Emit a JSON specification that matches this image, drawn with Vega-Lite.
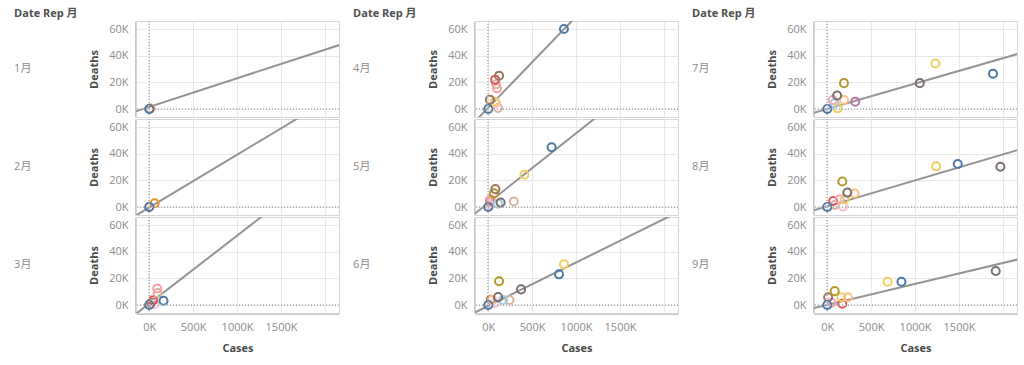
{
  "$schema": "https://vega.github.io/schema/vega-lite/v6.json",
  "padding": {"left": 14, "top": 8, "right": 0, "bottom": 0},
  "background": "white",
  "config": {
    "font": "Open Sans, Noto Sans CJK JP, sans-serif",
    "view": {"stroke": "#d6d6d6", "strokeWidth": 1},
    "axis": {
      "labelColor": "#8c8c8c",
      "labelFontSize": 11,
      "labelFont": "Open Sans, Noto Sans CJK JP, sans-serif",
      "titleColor": "#4a4a4a",
      "titleFontSize": 11,
      "titleFontWeight": "bold",
      "titleFont": "Open Sans, Noto Sans CJK JP, sans-serif",
      "ticks": false,
      "domainColor": "#c8c8c8",
      "grid": true,
      "gridColor": "#e8e8e8",
      "labelFlush": false,
      "labelOverlap": false
    },
    "title": {"font": "Open Sans, Noto Sans CJK JP, sans-serif"}
  },
  "datasets": {
    "d": [
      {"m": "1月", "col": 1, "k": "t", "c": "T", "x": -300000, "y": -4950},
      {"m": "1月", "col": 1, "k": "t", "c": "T", "x": 2400000, "y": 53100},
      {"m": "1月", "col": 1, "k": "p", "c": "China", "x": 11000, "y": 260},
      {"m": "1月", "col": 1, "k": "p", "c": "Others", "x": 500, "y": 0},

      {"m": "2月", "col": 1, "k": "t", "c": "T", "x": -300000, "y": -12300},
      {"m": "2月", "col": 1, "k": "t", "c": "T", "x": 2400000, "y": 94600},
      {"m": "2月", "col": 1, "k": "p", "c": "China", "x": 62000, "y": 2800},
      {"m": "2月", "col": 1, "k": "p", "c": "Italy", "x": 1100, "y": 30},
      {"m": "2月", "col": 1, "k": "p", "c": "Others", "x": 300, "y": 0},

      {"m": "3月", "col": 1, "k": "t", "c": "T", "x": -300000, "y": -14300},
      {"m": "3月", "col": 1, "k": "t", "c": "T", "x": 2400000, "y": 123400},
      {"m": "3月", "col": 1, "k": "p", "c": "China", "x": 3300, "y": 300},
      {"m": "3月", "col": 1, "k": "p", "c": "United_Kingdom", "x": 25000, "y": 1800},
      {"m": "3月", "col": 1, "k": "p", "c": "Germany", "x": 62000, "y": 600},
      {"m": "3月", "col": 1, "k": "p", "c": "France", "x": 44000, "y": 3500},
      {"m": "3月", "col": 1, "k": "p", "c": "Spain", "x": 96000, "y": 9000},
      {"m": "3月", "col": 1, "k": "p", "c": "Italy", "x": 91000, "y": 12400},
      {"m": "3月", "col": 1, "k": "p", "c": "United_States_of_America", "x": 163000, "y": 3200},
      {"m": "3月", "col": 1, "k": "p", "c": "Others", "x": 500, "y": 10},

      {"m": "4月", "col": 2, "k": "t", "c": "T", "x": -300000, "y": -19600},
      {"m": "4月", "col": 2, "k": "t", "c": "T", "x": 2400000, "y": 165000},
      {"m": "4月", "col": 2, "k": "p", "c": "Russia", "x": 112000, "y": 800},
      {"m": "4月", "col": 2, "k": "p", "c": "Germany", "x": 90000, "y": 4500},
      {"m": "4月", "col": 2, "k": "p", "c": "Brazil", "x": 75000, "y": 5500},
      {"m": "4月", "col": 2, "k": "p", "c": "Belgium", "x": 19000, "y": 7000},
      {"m": "4月", "col": 2, "k": "p", "c": "Italy", "x": 100000, "y": 15500},
      {"m": "4月", "col": 2, "k": "p", "c": "Spain", "x": 90000, "y": 18500},
      {"m": "4月", "col": 2, "k": "p", "c": "France", "x": 79000, "y": 22000},
      {"m": "4月", "col": 2, "k": "p", "c": "United_Kingdom", "x": 124000, "y": 25000},
      {"m": "4月", "col": 2, "k": "p", "c": "United_States_of_America", "x": 862000, "y": 60000},
      {"m": "4月", "col": 2, "k": "p", "c": "Others", "x": 500, "y": 10},

      {"m": "5月", "col": 2, "k": "t", "c": "T", "x": -300000, "y": -12700},
      {"m": "5月", "col": 2, "k": "t", "c": "T", "x": 2400000, "y": 128500},
      {"m": "5月", "col": 2, "k": "p", "c": "Germany", "x": 20000, "y": 1500},
      {"m": "5月", "col": 2, "k": "p", "c": "Spain", "x": 25000, "y": 3500},
      {"m": "5月", "col": 2, "k": "p", "c": "France", "x": 22000, "y": 5000},
      {"m": "5月", "col": 2, "k": "p", "c": "Italy", "x": 30000, "y": 5600},
      {"m": "5月", "col": 2, "k": "p", "c": "Peru", "x": 112000, "y": 2500},
      {"m": "5月", "col": 2, "k": "p", "c": "India", "x": 142000, "y": 3300},
      {"m": "5月", "col": 2, "k": "p", "c": "Mexico", "x": 67000, "y": 10300},
      {"m": "5月", "col": 2, "k": "p", "c": "United_Kingdom", "x": 82000, "y": 13400},
      {"m": "5月", "col": 2, "k": "p", "c": "Russia", "x": 292000, "y": 4100},
      {"m": "5月", "col": 2, "k": "p", "c": "Brazil", "x": 412000, "y": 24200},
      {"m": "5月", "col": 2, "k": "p", "c": "United_States_of_America", "x": 722000, "y": 44800},
      {"m": "5月", "col": 2, "k": "p", "c": "Others", "x": 500, "y": 10},

      {"m": "6月", "col": 2, "k": "t", "c": "T", "x": -300000, "y": -10500},
      {"m": "6月", "col": 2, "k": "t", "c": "T", "x": 2400000, "y": 77500},
      {"m": "6月", "col": 2, "k": "p", "c": "United_Kingdom", "x": 30000, "y": 4000},
      {"m": "6月", "col": 2, "k": "p", "c": "Colombia", "x": 45000, "y": 3800},
      {"m": "6月", "col": 2, "k": "p", "c": "Germany", "x": 75000, "y": 1300},
      {"m": "6月", "col": 2, "k": "p", "c": "Russia", "x": 243000, "y": 3800},
      {"m": "6月", "col": 2, "k": "p", "c": "Peru", "x": 169000, "y": 3800},
      {"m": "6月", "col": 2, "k": "p", "c": "Iran", "x": 112000, "y": 5900},
      {"m": "6月", "col": 2, "k": "p", "c": "Mexico", "x": 124000, "y": 17800},
      {"m": "6月", "col": 2, "k": "p", "c": "India", "x": 374000, "y": 11700},
      {"m": "6月", "col": 2, "k": "p", "c": "Brazil", "x": 862000, "y": 30500},
      {"m": "6月", "col": 2, "k": "p", "c": "United_States_of_America", "x": 806000, "y": 23000},
      {"m": "6月", "col": 2, "k": "p", "c": "Others", "x": 500, "y": 10},

      {"m": "7月", "col": 3, "k": "t", "c": "T", "x": -300000, "y": -5600},
      {"m": "7月", "col": 3, "k": "t", "c": "T", "x": 2400000, "y": 45700},
      {"m": "7月", "col": 3, "k": "p", "c": "Argentina", "x": 120000, "y": 500},
      {"m": "7月", "col": 3, "k": "p", "c": "Peru", "x": 83000, "y": 4300},
      {"m": "7月", "col": 3, "k": "p", "c": "Chile", "x": 63000, "y": 6800},
      {"m": "7月", "col": 3, "k": "p", "c": "Colombia", "x": 191000, "y": 6800},
      {"m": "7月", "col": 3, "k": "p", "c": "Iran", "x": 113000, "y": 10100},
      {"m": "7月", "col": 3, "k": "p", "c": "South_Africa", "x": 319000, "y": 5500},
      {"m": "7月", "col": 3, "k": "p", "c": "Mexico", "x": 191000, "y": 19400},
      {"m": "7月", "col": 3, "k": "p", "c": "India", "x": 1054000, "y": 19400},
      {"m": "7月", "col": 3, "k": "p", "c": "Brazil", "x": 1231000, "y": 34100},
      {"m": "7月", "col": 3, "k": "p", "c": "United_States_of_America", "x": 1887000, "y": 26500},
      {"m": "7月", "col": 3, "k": "p", "c": "Others", "x": 500, "y": 10},

      {"m": "8月", "col": 3, "k": "t", "c": "T", "x": -300000, "y": -5400},
      {"m": "8月", "col": 3, "k": "t", "c": "T", "x": 2400000, "y": 47200},
      {"m": "8月", "col": 3, "k": "p", "c": "Russia", "x": 86000, "y": 1500},
      {"m": "8月", "col": 3, "k": "p", "c": "Germany", "x": 180000, "y": 300},
      {"m": "8月", "col": 3, "k": "p", "c": "France", "x": 68000, "y": 4500},
      {"m": "8月", "col": 3, "k": "p", "c": "Chile", "x": 142000, "y": 5800},
      {"m": "8月", "col": 3, "k": "p", "c": "Argentina", "x": 198000, "y": 5800},
      {"m": "8月", "col": 3, "k": "p", "c": "Colombia", "x": 311000, "y": 10100},
      {"m": "8月", "col": 3, "k": "p", "c": "Iran", "x": 229000, "y": 10800},
      {"m": "8月", "col": 3, "k": "p", "c": "Mexico", "x": 172000, "y": 19100},
      {"m": "8月", "col": 3, "k": "p", "c": "India", "x": 1971000, "y": 30200},
      {"m": "8月", "col": 3, "k": "p", "c": "Brazil", "x": 1239000, "y": 30500},
      {"m": "8月", "col": 3, "k": "p", "c": "United_States_of_America", "x": 1486000, "y": 32300},
      {"m": "8月", "col": 3, "k": "p", "c": "Others", "x": 500, "y": 10},

      {"m": "9月", "col": 3, "k": "t", "c": "T", "x": -300000, "y": -4600},
      {"m": "9月", "col": 3, "k": "t", "c": "T", "x": 2400000, "y": 37800},
      {"m": "9月", "col": 3, "k": "p", "c": "Chile", "x": 48000, "y": 1800},
      {"m": "9月", "col": 3, "k": "p", "c": "Belgium", "x": 11000, "y": 5800},
      {"m": "9月", "col": 3, "k": "p", "c": "France", "x": 172000, "y": 1000},
      {"m": "9月", "col": 3, "k": "p", "c": "Argentina", "x": 161000, "y": 5800},
      {"m": "9月", "col": 3, "k": "p", "c": "Colombia", "x": 236000, "y": 5800},
      {"m": "9月", "col": 3, "k": "p", "c": "Mexico", "x": 86000, "y": 10400},
      {"m": "9月", "col": 3, "k": "p", "c": "Brazil", "x": 687000, "y": 17400},
      {"m": "9月", "col": 3, "k": "p", "c": "United_States_of_America", "x": 845000, "y": 17400},
      {"m": "9月", "col": 3, "k": "p", "c": "India", "x": 1918000, "y": 25500},
      {"m": "9月", "col": 3, "k": "p", "c": "Others", "x": 500, "y": 10}
    ]
  },
  "spacing": 13,
  "hconcat": [
    {
      "title": {"text": "Date Rep 月", "anchor": "start", "frame": "bounds", "fontSize": 11, "fontWeight": "bold", "color": "#505050", "offset": 1},
      "data": {"name": "d"},
      "transform": [{"filter": "datum.col == 1"}],
      "spacing": 0,
      "facet": {"row": {"field": "m", "type": "nominal", "sort": ["1月", "2月", "3月"], "header": {"title": null, "labelAngle": 0, "labelAlign": "right", "labelPadding": 40, "labelColor": "#8c8c8c", "labelFontSize": 11, "labelFont": "Open Sans, Noto Sans CJK JP, sans-serif"}}},
      "spec": {
        "width": 203, "height": 96,
        "encoding": {
          "x": {"field": "x", "type": "quantitative", "scale": {"domain": [-150000, 2160000], "nice": false, "zero": false}, "title": "Cases", "axis": {"values": [0, 500000, 1000000, 1500000, 2000000], "labelExpr": "datum.value >= 2000000 ? '' : format(datum.value/1000, 'd') + 'K'", "labelPadding": 7, "titlePadding": 10, "grid": true, "gridColor": "#e8e8e8", "labelOverlap": false}},
          "y": {"field": "y", "type": "quantitative", "scale": {"domain": [-6000, 66000], "nice": false, "zero": false}, "title": "Deaths", "axis": {"values": [0, 20000, 40000, 60000], "labelExpr": "format(datum.value/1000, 'd') + 'K'", "labelPadding": 7, "titlePadding": 9, "grid": true, "gridColor": "#e8e8e8", "labelOverlap": false}}
        },
        "layer": [
          {"transform": [{"filter": "datum.k == 't'"}], "mark": {"type": "line", "color": "#949494", "strokeWidth": 2, "clip": true}},
          {"transform": [{"filter": "datum.k == 'p'"}], "mark": {"type": "point", "filled": false, "strokeWidth": 2, "size": 65, "opacity": 1},
            "encoding": {
              "color": {"field": "c", "type": "nominal", "legend": null, "scale": {"domain": ["Others", "United_States_of_America", "China", "Italy", "Spain", "Russia", "France", "United_Kingdom", "Belgium", "Germany", "Brazil", "India", "Iran", "Mexico", "South_Africa", "Peru", "Colombia", "Argentina", "Chile"], "range": ["#4e79a7", "#4e79a7", "#f28e2b", "#ff9d9a", "#d7b5a6", "#d7b5a6", "#e15759", "#9d7660", "#9d7660", "#fabfd2", "#f1ce63", "#79706e", "#79706e", "#b6992d", "#b07aa1", "#a0cbe8", "#ffbe7d", "#f1ce63", "#f4a6b8"]}}
            }},
          {"mark": {"type": "rule", "strokeDash": [1, 2], "color": "#bbbbbb"}, "encoding": {"x": {"datum": 0}, "y": null}},
          {"mark": {"type": "rule", "strokeDash": [1, 2], "color": "#bbbbbb"}, "encoding": {"y": {"datum": 0}, "x": null}}
        ]
      }
    },
    {
      "title": {"text": "Date Rep 月", "anchor": "start", "frame": "bounds", "fontSize": 11, "fontWeight": "bold", "color": "#505050", "offset": 1},
      "data": {"name": "d"},
      "transform": [{"filter": "datum.col == 2"}],
      "spacing": 0,
      "facet": {"row": {"field": "m", "type": "nominal", "sort": ["4月", "5月", "6月"], "header": {"title": null, "labelAngle": 0, "labelAlign": "right", "labelPadding": 40, "labelColor": "#8c8c8c", "labelFontSize": 11, "labelFont": "Open Sans, Noto Sans CJK JP, sans-serif"}}},
      "spec": {
        "width": 203, "height": 96,
        "encoding": {
          "x": {"field": "x", "type": "quantitative", "scale": {"domain": [-150000, 2160000], "nice": false, "zero": false}, "title": "Cases", "axis": {"values": [0, 500000, 1000000, 1500000, 2000000], "labelExpr": "datum.value >= 2000000 ? '' : format(datum.value/1000, 'd') + 'K'", "labelPadding": 7, "titlePadding": 10, "grid": true, "gridColor": "#e8e8e8", "labelOverlap": false}},
          "y": {"field": "y", "type": "quantitative", "scale": {"domain": [-6000, 66000], "nice": false, "zero": false}, "title": "Deaths", "axis": {"values": [0, 20000, 40000, 60000], "labelExpr": "format(datum.value/1000, 'd') + 'K'", "labelPadding": 7, "titlePadding": 9, "grid": true, "gridColor": "#e8e8e8", "labelOverlap": false}}
        },
        "layer": [
          {"transform": [{"filter": "datum.k == 't'"}], "mark": {"type": "line", "color": "#949494", "strokeWidth": 2, "clip": true}},
          {"transform": [{"filter": "datum.k == 'p'"}], "mark": {"type": "point", "filled": false, "strokeWidth": 2, "size": 65, "opacity": 1},
            "encoding": {
              "color": {"field": "c", "type": "nominal", "legend": null, "scale": {"domain": ["Others", "United_States_of_America", "China", "Italy", "Spain", "Russia", "France", "United_Kingdom", "Belgium", "Germany", "Brazil", "India", "Iran", "Mexico", "South_Africa", "Peru", "Colombia", "Argentina", "Chile"], "range": ["#4e79a7", "#4e79a7", "#f28e2b", "#ff9d9a", "#d7b5a6", "#d7b5a6", "#e15759", "#9d7660", "#9d7660", "#fabfd2", "#f1ce63", "#79706e", "#79706e", "#b6992d", "#b07aa1", "#a0cbe8", "#ffbe7d", "#f1ce63", "#f4a6b8"]}}
            }},
          {"mark": {"type": "rule", "strokeDash": [1, 2], "color": "#bbbbbb"}, "encoding": {"x": {"datum": 0}, "y": null}},
          {"mark": {"type": "rule", "strokeDash": [1, 2], "color": "#bbbbbb"}, "encoding": {"y": {"datum": 0}, "x": null}}
        ]
      }
    },
    {
      "title": {"text": "Date Rep 月", "anchor": "start", "frame": "bounds", "fontSize": 11, "fontWeight": "bold", "color": "#505050", "offset": 1},
      "data": {"name": "d"},
      "transform": [{"filter": "datum.col == 3"}],
      "spacing": 0,
      "facet": {"row": {"field": "m", "type": "nominal", "sort": ["7月", "8月", "9月"], "header": {"title": null, "labelAngle": 0, "labelAlign": "right", "labelPadding": 40, "labelColor": "#8c8c8c", "labelFontSize": 11, "labelFont": "Open Sans, Noto Sans CJK JP, sans-serif"}}},
      "spec": {
        "width": 203, "height": 96,
        "encoding": {
          "x": {"field": "x", "type": "quantitative", "scale": {"domain": [-150000, 2160000], "nice": false, "zero": false}, "title": "Cases", "axis": {"values": [0, 500000, 1000000, 1500000, 2000000], "labelExpr": "datum.value >= 2000000 ? '' : format(datum.value/1000, 'd') + 'K'", "labelPadding": 7, "titlePadding": 10, "grid": true, "gridColor": "#e8e8e8", "labelOverlap": false}},
          "y": {"field": "y", "type": "quantitative", "scale": {"domain": [-6000, 66000], "nice": false, "zero": false}, "title": "Deaths", "axis": {"values": [0, 20000, 40000, 60000], "labelExpr": "format(datum.value/1000, 'd') + 'K'", "labelPadding": 7, "titlePadding": 9, "grid": true, "gridColor": "#e8e8e8", "labelOverlap": false}}
        },
        "layer": [
          {"transform": [{"filter": "datum.k == 't'"}], "mark": {"type": "line", "color": "#949494", "strokeWidth": 2, "clip": true}},
          {"transform": [{"filter": "datum.k == 'p'"}], "mark": {"type": "point", "filled": false, "strokeWidth": 2, "size": 65, "opacity": 1},
            "encoding": {
              "color": {"field": "c", "type": "nominal", "legend": null, "scale": {"domain": ["Others", "United_States_of_America", "China", "Italy", "Spain", "Russia", "France", "United_Kingdom", "Belgium", "Germany", "Brazil", "India", "Iran", "Mexico", "South_Africa", "Peru", "Colombia", "Argentina", "Chile"], "range": ["#4e79a7", "#4e79a7", "#f28e2b", "#ff9d9a", "#d7b5a6", "#d7b5a6", "#e15759", "#9d7660", "#9d7660", "#fabfd2", "#f1ce63", "#79706e", "#79706e", "#b6992d", "#b07aa1", "#a0cbe8", "#ffbe7d", "#f1ce63", "#f4a6b8"]}}
            }},
          {"mark": {"type": "rule", "strokeDash": [1, 2], "color": "#bbbbbb"}, "encoding": {"x": {"datum": 0}, "y": null}},
          {"mark": {"type": "rule", "strokeDash": [1, 2], "color": "#bbbbbb"}, "encoding": {"y": {"datum": 0}, "x": null}}
        ]
      }
    }
  ]
}
